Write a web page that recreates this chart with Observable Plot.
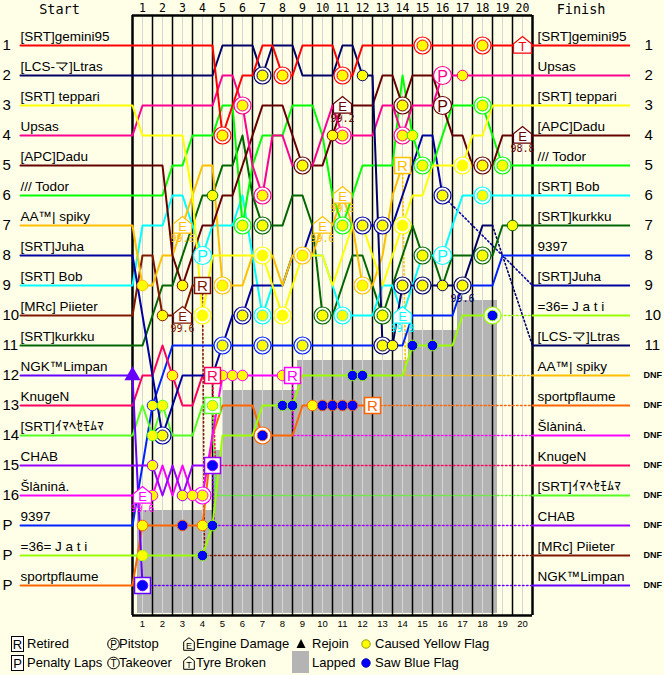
<!DOCTYPE html>
<html><head><meta charset="utf-8">
<script src="https://cdn.jsdelivr.net/npm/d3@7"></script>
<script src="https://cdn.jsdelivr.net/npm/@observablehq/plot@0.6"></script>
<style>
body{margin:0;background:#ffffe8;font-family:"Liberation Sans",Arial,sans-serif;}
#chart svg{display:block}
#legend{position:relative;width:664px;height:45px;font-size:13px;color:#000}
#legend .ic{position:absolute}
#legend .lb{position:absolute;white-space:nowrap;line-height:16px}
</style></head><body>
<div id="chart"></div>
<div id="legend"></div>
<script>
// ---------- data ----------
const lapNumbers = [1,2,3,4,5,6,7,8,9,10,11,12,13,14,15,16,17,18,19,20];
const driverNames = ["[SRT]gemini95","[LCS-マ]Ltras","[SRT] teppari","Upsas","[APC]Dadu","/// Todor","AA™| spiky","[SRT]Juha","[SRT] Bob","[MRc] Piieter","[SRT]kurkku","NGK™Limpan","KnugeN","[SRT]ｲﾏﾍｾﾓﾑﾏ","CHAB","Šlàniná.","9397","=36= J a t i","sportpflaume"];
const driverColors = ["#ff0000","#000066","#ffff00","#ff0090","#660000","#00ff00","#ffc000","#0000a0","#00ffff","#801800","#006600","#6600ff","#ff0060","#55ff22","#9900ff","#ff00ff","#0022ff","#99ff00","#ff6600"];
const startRows = [1,2,3,4,5,6,7,8,9,10,11,12,13,14,15,16,17,18,19];
const startLabels = ["1","2","3","4","5","6","7","8","9","10","11","12","13","14","15","16","P","P","P"];
const finishDrivers = [0,3,2,4,5,8,10,16,7,17,1,6,18,15,12,13,14,9,11];
const finishLabels = ["1","2","3","4","5","6","7","8","9","10","11","DNF","DNF","DNF","DNF","DNF","DNF","DNF","DNF"];

// positions at every half lap (start, 0.5, 1, 1.5 ... laps)
const posGemini = [1,1,1,1,1,1,1,1,1, 4,3,2,2,1,1,2,2,1,1,1, 1,2,2,1,1,1,1,1,1,1, 1,1,1,1,1,1,1,1,1,1, 1];
const posLtras  = [2,2,2,2,2,2,2,2,2, 1,1,1,1,2,1,1,1,2,2,2, 2,1,1,2,2,11,11,9,9,9, 9,9,9,9,8,7,7];
const posTeppari= [3,4,4,4,4,4,6,10,8,8, 8,8,8,8,9,10,9,8,8,8, 9,8,7,7,8,9,8,7,6,6, 5,5,5,5,4,4,3,3,3,3, 3];
const posUpsas  = [4,3,3,3,3,3,3,3,3,2, 2,3,5,6,4,4,5,5,5,4, 3,4,4,4,4,3,3,4,3,3, 3,2,2,2,2,2,2,2,2,2, 2];
const posDadu   = [5,5,5,5,8,9,8,7,7,6, 6,5,4,3,3,3,4,5,5,5, 4,3,3,3,3,2,2,3,2,2, 2,3,4,4,5,5,5,4,4,4, 4];
const posTodor  = [6,6,6,6,5,5,4,4,4,3, 3,7,5,4,4,4,3,3,3,4, 6,7,6,5,5,5,5,2,4,5, 5,4,3,3,3,3,4,5,5,5, 5];
const posSpiky  = [7,9,9,8,8,7,6,5,5,9, 9,9,8,8,8,9,8,8,8,7, 7,6,7,9,9,8,6,5];
const posJuha   = [8,10,12,14,13,12,12,12,12,11, 10,10,9,9,9,9,8,8,7,7, 7,7,7,7,7,7,7,6,5,4, 4,6];
const posBob    = [9,7,7,7,6,6,7,8,7,7, 7,6,8,10,9,9,8,8,8,8, 9,10,10,10,10,9,9,10,9,8, 8,8,7,6,6,6,6,6,6,6, 6];
const posPiieter= [10,8,8,10,10,10,9,9];
const posKurkku = [11,11,10,9,9,8,7,6,6,5, 5,4,6,7,7,7,6,6,7,10, 10,9,8,8,9,10,9,8,7,8, 8,9,8,8,8,8,8,7,7,7, 7];
const posLimpan = [12,19];
const posKnugen = [13,12,12,11,12,13,13,12,12];
const posImahe  = [14,13,14,13,14,14,14,13,13];
const posChab   = [15,15,15,16,15,16,15,15,15];
const posSlanina= [16,16,16,15,16,15,16,16,14,12, 12,12,12,12,12,12,12];
const pos9397   = [17,15,13,12,11, 11,11,11,11,11, 11,11,11,11,11, 11,11,11,11,11, 11,11,11,11,11, 11,11,11,10,10, 10,10,10,9,9, 9,9,8,8,8, 8];
const posJati   = [18,18,18,18,18, 18,18,18,17,14, 14,14,14,13,13, 13,13,12,12,12, 12,12,12,12,12, 12,12,12,11,11, 11,11,11,10,10, 10,10];
const posSport  = [19,17,17,17,17, 17,17,17,14,13, 13,13,13,14,14, 14,14,13,13,13, 13,13,13,13,13];
const positions = [posGemini,posLtras,posTeppari,posUpsas,posDadu,posTodor,posSpiky,posJuha,posBob,posPiieter,posKurkku,posLimpan,posKnugen,posImahe,posChab,posSlanina,pos9397,posJati,posSport];

// dotted continuations [lap, position]
const tailLtras   = [[18,7],[20,11]];
const tailJuha    = [[15.5,6],[20,9]];
const tailJati    = [[18,10],[20,10]];
const tailSpiky   = [[13.5,5],[13.65,12],[20,12]];
const tailSport   = [[12,13],[20,13]];
const tailSlanina = [[8,12],[8.05,14],[20,14]];
const tailKnugen  = [[4,12],[4.15,15],[20,15]];
const tailImahe   = [[4,13],[4.15,16],[20,16]];
const tailChab    = [[4,15],[4.1,17],[20,17]];
const tailPiieter = [[3.5,9],[3.6,18],[20,18]];
const tailLimpan  = [[0.5,19],[20,19]];
const tails = [[1,tailLtras],[7,tailJuha],[17,tailJati],[6,tailSpiky],[18,tailSport],[15,tailSlanina],[12,tailKnugen],[13,tailImahe],[14,tailChab],[9,tailPiieter],[11,tailLimpan]];

// lapped area steps
const lapStart = [0.25,4.05,4.5,8.25,13.8,16.25];
const lapEnd   = [4.05,4.5,8.25,13.8,16.25,18.25];
const lapRow   = [16.5,14.5,12.5,11.5,10.5,9.5];

// events [half-lap, position, driver]
const yellowRings = [[9,4,0],[15,2,0],[21,2,0],[29,1,0],[35,1,0],[13,2,1],[25,11,1],[27,9,1],[29,9,1],[33,9,1],
 [11,3,3],[13,6,3],[21,4,3],[27,4,3],[17,5,4],[27,3,4],[35,5,4],[11,7,5],[21,7,5],[29,5,5],[35,3,5],[37,5,5],
 [13,7,10],[19,10,10],[25,10,10],[29,8,10],[35,8,10],[13,10,8],[21,10,8],[35,6,8],[9,9,6],[17,8,6],[23,9,6],
 [7,10,2],[13,8,2],[15,10,2],[27,7,2],[33,5,2],[3,14,7],[11,10,7],[23,7,7],[25,7,7],[31,6,7],[9,11,16],[13,11,16],[17,11,16],[7,16,15]];
const yellowDots = [[23,2,1],[33,2,3],[20,4,4],[28,4,5],[8,6,10],[38,7,10],[26,11,1],[31,9,1],[1,9,6],[3,10,9],[5,9,4],[4,12,12],
 [2,13,16],[3,13,13],[2,14,13],[2,15,14],[2,16,15],[5,16,14],[6,16,15],[1,17,18],[7,17,18],[1,18,17],[18,13,18],
 [9,12,15],[10,12,15],[11,12,15],[15,12,15]];
const blueDots = [[5,17,18],[7,18,17],[8,17,17],[15,13,17],[16,13,17],[19,13,18],[20,13,18],[21,13,18],[22,13,18],[22,12,17],[23,12,17],[28,11,17],[30,11,17]];
const blueRings = [[13,14,18],[36,10,17]];
const pitstops = [[7,8,8],[31,8,8],[31,2,3],[31,3,4]];
const engines = [[5,7,6,"99.6"],[5,10,9,"99.6"],[19,7,6,"99.6"],[21,6,6,"99.6"],[21,3,4,"99.2"],[27,10,8,"99.8"],[39,4,4,"98.8"],[1,16,15,"99.6"]];
const damageLabels = [[33,9,1,"99.6"]];
const tyres = [[39,1,0]];
const retired = [[7,9,9],[8,12,12],[16,12,15],[24,13,18],[27,5,6]];
const retiredFlag = [[1,19,11,"#0000ff"],[8,15,14,"#0000ff"],[8,13,13,"#ffff00"]];
const rejoins = [[0,12,11]];

// ---------- build ----------
const FONT = "Liberation Sans, Arial, sans-serif";
const MONO = "DejaVu Sans Mono, monospace";
const ev = a => a.map(([h,r,k,t]) => ({x:h/2, y:r, c:driverColors[k], t}));

const linePts = [];
positions.forEach((p,i) => {
  linePts.push({x:-5.6, y:startRows[i], d:i, c:driverColors[i]});
  p.forEach((r,h) => linePts.push({x:h/2, y:r, d:i, c:driverColors[i]}));
});
linePts.reverse();
const tailPts = [];
tails.forEach(([i,t]) => t.forEach(([x,y]) => tailPts.push({x, y, d:i, c:driverColors[i]})));

const house = {draw(ctx, size){ const r = Math.sqrt(size/Math.PI);
  ctx.moveTo(0,-r); ctx.lineTo(r,-r*0.2); ctx.lineTo(r,r*0.85); ctx.lineTo(-r,r*0.85); ctx.lineTo(-r,-r*0.2); ctx.closePath(); }};

const startData = driverNames.map((n,i)=>({name:n, row:startRows[i], c:driverColors[i], lab:startLabels[i]}));
const finishData = finishDrivers.map((d,i)=>({name:driverNames[d], row:i+1, c:driverColors[d], lab:finishLabels[i]}));

const marks = [
  Plot.rect(lapStart.map((s,i)=>({x1:s,x2:lapEnd[i],y1:lapRow[i],y2:19.93})), {x1:"x1",x2:"x2",y1:"y1",y2:"y2",fill:"#b4b4b4"}),
  Plot.ruleX(lapNumbers, {x:d=>d-0.5, y1:0, y2:20, stroke:"#d6d6d6", strokeWidth:1}),
  Plot.ruleX(lapNumbers.slice(0,19), {x:d=>d, y1:0, y2:20, stroke:"black", strokeWidth:1.5}),
  Plot.ruleX([0,20], {x:d=>d, y1:0, y2:20, stroke:"black", strokeWidth:2.5}),
  Plot.ruleY([0,20], {y:d=>d, x1:0, x2:20, stroke:"black", strokeWidth:2.5}),
  Plot.ruleY(finishData, {y:"row", x1:20, x2:24.9, stroke:"c", strokeWidth:2}),
  Plot.line(tailPts, {x:"x", y:"y", z:"d", stroke:"c", strokeWidth:1.6, strokeDasharray:"1.5,2.5"}),
  Plot.line(linePts, {x:"x", y:"y", z:"d", stroke:"c", strokeWidth:2}),
  // markers
  Plot.dot(ev(yellowRings), {x:"x", y:"y", r:8.5, fill:"white", stroke:"c", strokeWidth:1.2}),
  Plot.dot(ev(yellowRings), {x:"x", y:"y", r:5.5, fill:"#ffff00", stroke:"c", strokeWidth:1}),
  Plot.dot(ev(yellowDots), {x:"x", y:"y", r:5.3, fill:"#ffff00", stroke:"c", strokeWidth:1}),
  Plot.dot(ev(blueRings), {x:"x", y:"y", r:8.5, fill:"white", stroke:"c", strokeWidth:1.2}),
  Plot.dot(ev(blueRings.concat(blueDots)), {x:"x", y:"y", r:5.3, fill:"#0000ff", stroke:"c", strokeWidth:1}),
  Plot.dot(ev(pitstops), {x:"x", y:"y", r:9, fill:"white", stroke:"c", strokeWidth:1.2}),
  Plot.text(ev(pitstops), {x:"x", y:"y", text:()=>"P", fill:"c", fontSize:16, fontFamily:FONT, dy:1}),
  Plot.dot(ev(engines), {x:"x", y:"y", r:9, symbol:house, fill:"white", stroke:"c", strokeWidth:1.2}),
  Plot.text(ev(engines), {x:"x", y:"y", text:()=>"E", fill:"c", fontSize:13, fontFamily:FONT, dy:1}),
  Plot.text(ev(engines).concat(ev(damageLabels)), {x:"x", y:"y", text:"t", fill:"c", fontSize:10, fontFamily:MONO, dy:13}),
  Plot.dot(ev(tyres), {x:"x", y:"y", r:9, symbol:house, fill:"white", stroke:"c", strokeWidth:1.2}),
  Plot.text(ev(tyres), {x:"x", y:"y", text:()=>"T", fill:"c", fontSize:13, fontFamily:FONT, dy:1}),
  Plot.dot(ev(retired), {x:"x", y:"y", r:9, symbol:"square", fill:"white", stroke:"c", strokeWidth:1.5}),
  Plot.text(ev(retired), {x:"x", y:"y", text:()=>"R", fill:"c", fontSize:15, fontFamily:FONT, dy:1}),
  Plot.dot(ev(retiredFlag), {x:"x", y:"y", r:9, symbol:"square", fill:"white", stroke:"c", strokeWidth:1.5}),
  Plot.dot(ev(retiredFlag), {x:"x", y:"y", r:5.3, fill:"t", stroke:"c", strokeWidth:1}),
  Plot.dot(ev(rejoins), {x:"x", y:"y", r:6, symbol:"triangle", fill:"c"}),
  // texts
  Plot.text(startData, {x:-5.6, y:"row", text:"name", textAnchor:"start", lineAnchor:"bottom", dy:-5, fontSize:13.5, fontFamily:FONT, fill:"black"}),
  Plot.text(startData, {x:-6.5, y:"row", text:"lab", textAnchor:"start", fontSize:15, fontFamily:FONT, fill:"black"}),
  Plot.text(finishData, {x:20.25, y:"row", text:"name", textAnchor:"start", lineAnchor:"bottom", dy:-5, fontSize:13.5, fontFamily:FONT, fill:"black"}),
  Plot.text(finishData.filter(d=>d.lab!=="DNF"), {x:25.6, y:"row", text:"lab", textAnchor:"start", fontSize:15, fontFamily:FONT, fill:"black"}),
  Plot.text(finishData.filter(d=>d.lab==="DNF"), {x:25.55, y:"row", text:"lab", textAnchor:"start", fontSize:9, fontWeight:"bold", fontFamily:FONT, fill:"black"}),
  Plot.text(lapNumbers, {x:d=>d-0.5, y:0, dy:-7, text:d=>String(d), fontSize:11.5, fontFamily:MONO, fill:"black"}),
  Plot.text(lapNumbers, {x:d=>d-0.5, y:20, dy:8, text:d=>String(d), fontSize:9.5, fontFamily:FONT, fill:"black"}),
  Plot.text(["Start","Finish"], {x:(d,i)=>[-3.65,22.43][i], y:0, dy:-6, text:d=>d, fontSize:13.5, fontFamily:MONO, fill:"black"})
];

const chart = Plot.plot({
  width:664, height:630, marginLeft:132, marginRight:132, marginTop:15, marginBottom:15,
  x:{domain:[0,20], range:[132,532], axis:null},
  y:{domain:[0,20], range:[15,615], axis:null},
  color:{type:"identity"},
  style:{background:"#ffffe8", fontFamily:FONT, overflow:"visible"},
  marks
});
document.getElementById("chart").appendChild(chart);

// ---------- legend ----------
const legendItems = [
  {ix:11, tx:27, row:0, icon:"box", letter:"R", label:"Retired"},
  {ix:11, tx:27, row:1, icon:"box", letter:"P", label:"Penalty Laps"},
  {ix:107, tx:119, row:0, icon:"circle", letter:"P", label:"Pitstop"},
  {ix:107, tx:119, row:1, icon:"circle", letter:"T", label:"Takeover"},
  {ix:183, tx:196, row:0, icon:"house", letter:"E", label:"Engine Damage"},
  {ix:183, tx:196, row:1, icon:"house", letter:"T", label:"Tyre Broken"},
  {ix:296, tx:312, row:0, icon:"tri", label:"Rejoin"},
  {ix:292, tx:312, row:1, icon:"gray", label:"Lapped"},
  {ix:361, tx:375, row:0, icon:"yellow", label:"Caused Yellow Flag"},
  {ix:361, tx:375, row:1, icon:"blue", label:"Saw Blue Flag"}
];
const rowC = [14, 33];
const lg = document.getElementById("legend");
legendItems.forEach(it => {
  const cy = rowC[it.row];
  let svg = "";
  if (it.icon==="box") svg = `<svg class="ic" style="left:${it.ix}px;top:${cy-8}px" width="13" height="16"><rect x="0.5" y="0.5" width="12" height="15" fill="white" stroke="black"/><text x="6.5" y="13" text-anchor="middle" font-size="13" font-family="Liberation Sans,Arial">${it.letter}</text></svg>`;
  if (it.icon==="circle") svg = `<svg class="ic" style="left:${it.ix}px;top:${cy-7}px" width="13" height="14"><circle cx="6.5" cy="7" r="5.8" fill="none" stroke="black"/><text x="6.5" y="10.5" text-anchor="middle" font-size="10" font-family="Liberation Sans,Arial">${it.letter}</text></svg>`;
  if (it.icon==="house") svg = `<svg class="ic" style="left:${it.ix}px;top:${cy-7}px" width="12" height="14"><path d="M6,0.7 L11.3,4.8 L11.3,13.3 L0.7,13.3 L0.7,4.8 Z" fill="none" stroke="black"/><text x="6" y="12" text-anchor="middle" font-size="9" font-family="Liberation Sans,Arial">${it.letter}</text></svg>`;
  if (it.icon==="tri") svg = `<svg class="ic" style="left:${it.ix}px;top:${cy-5}px" width="10" height="10"><path d="M5,0 L9.5,9 L0.5,9 Z" fill="black"/></svg>`;
  if (it.icon==="gray") svg = `<svg class="ic" style="left:${it.ix}px;top:${cy-12}px" width="17" height="22"><rect width="17" height="22" fill="#b4b4b4"/></svg>`;
  if (it.icon==="yellow") svg = `<svg class="ic" style="left:${it.ix}px;top:${cy-5}px" width="10" height="10"><circle cx="5" cy="5" r="4.2" fill="#ffff00" stroke="#999900"/></svg>`;
  if (it.icon==="blue") svg = `<svg class="ic" style="left:${it.ix}px;top:${cy-5}px" width="10" height="10"><circle cx="5" cy="5" r="4.2" fill="#0000ff" stroke="#0000aa"/></svg>`;
  lg.insertAdjacentHTML("beforeend", svg + `<div class="lb" style="left:${it.tx}px;top:${cy-8}px">${it.label}</div>`);
});
</script></body></html>
